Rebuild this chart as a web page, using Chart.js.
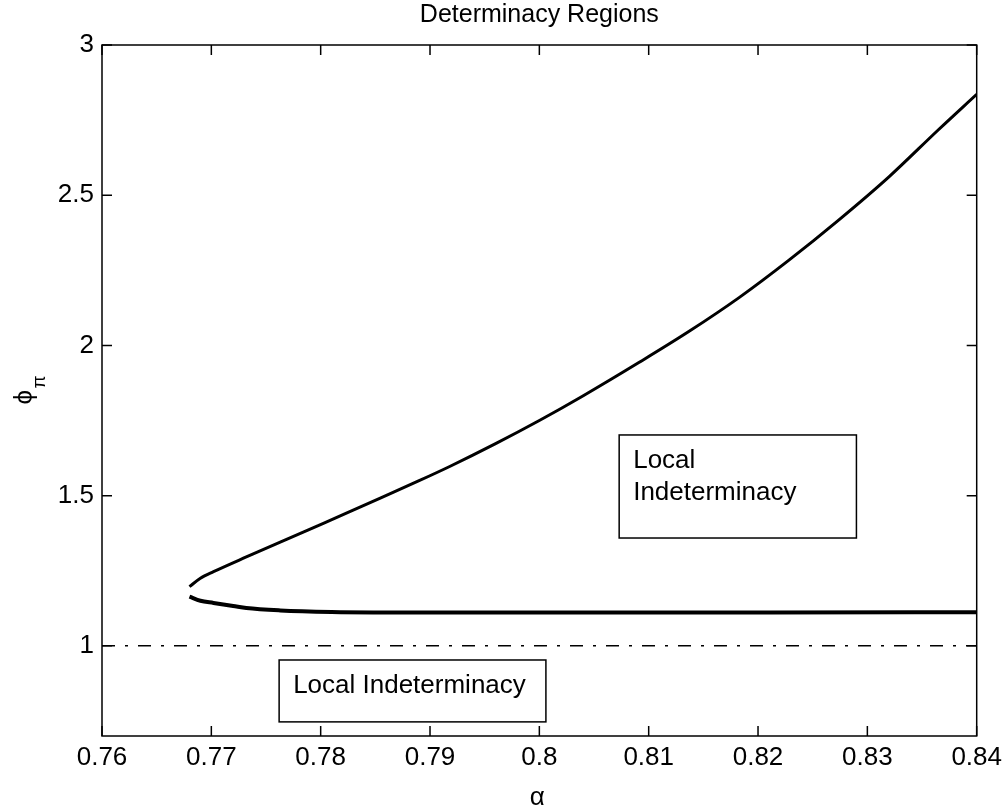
<!DOCTYPE html>
<html>
<head>
<meta charset="utf-8">
<script src="https://cdn.jsdelivr.net/npm/chart.js@4/dist/chart.umd.min.js"></script>
<style>
  body { margin: 0; background: #fff; }
</style>
</head>
<body>
<canvas id="chart" width="1008" height="809"></canvas>
<script>
const xTicks = [0.76, 0.77, 0.78, 0.79, 0.8, 0.81, 0.82, 0.83, 0.84];
const yTicks = [1, 1.5, 2, 2.5, 3];

// upper branch of the boundary
const upperAlpha = [0.7680, 0.7690, 0.7702, 0.7732, 0.7763, 0.7793, 0.7823, 0.7854, 0.7889, 0.7918, 0.7960,
                    0.8000, 0.8039, 0.8091, 0.8137, 0.8183, 0.8228, 0.8274, 0.8320, 0.8365, 0.8400];
const upperPhi   = [1.197, 1.225, 1.247, 1.296, 1.345, 1.393, 1.441, 1.491, 1.548, 1.597, 1.673,
                    1.750, 1.830, 1.943, 2.047, 2.160, 2.283, 2.418, 2.562, 2.718, 2.836];

// lower branch
const lowerAlpha = [0.7680, 0.7690, 0.7702, 0.7720, 0.7732, 0.7763, 0.7810, 0.7900, 0.8000, 0.8200, 0.8400];
const lowerPhi   = [1.164, 1.150, 1.143, 1.133, 1.126, 1.118, 1.113, 1.111, 1.111, 1.111, 1.112];

// phi_pi = 1 reference line
const refAlpha = [0.76, 0.84];
const refPhi = [1, 1];

// text boxes (data coords)
const notes = [
  { x0: 0.7762, x1: 0.8006, y0: 0.953, y1: 0.747, lines: ['Local Indeterminacy'] },
  { x0: 0.8073, x1: 0.8290, y0: 1.702, y1: 1.359, lines: ['Local', 'Indeterminacy'] }
];

const FONT = '"Liberation Sans", Arial, sans-serif';
const pts = (xs, ys) => xs.map((v, i) => ({ x: v, y: ys[i] }));

const framePlugin = {
  id: 'frame',
  afterDatasetsDraw(chart) {
    const { ctx, chartArea: a, scales: { x, y } } = chart;
    ctx.save();
    ctx.strokeStyle = '#000';
    ctx.lineWidth = 1.5;
    ctx.strokeRect(a.left, a.top, a.right - a.left, a.bottom - a.top);

    // inward ticks on all four sides
    ctx.beginPath();
    xTicks.forEach(v => {
      const px = x.getPixelForValue(v);
      ctx.moveTo(px, a.bottom); ctx.lineTo(px, a.bottom - 10);
      ctx.moveTo(px, a.top); ctx.lineTo(px, a.top + 10);
    });
    yTicks.forEach(v => {
      const py = y.getPixelForValue(v);
      ctx.moveTo(a.left, py); ctx.lineTo(a.left + 10, py);
      ctx.moveTo(a.right, py); ctx.lineTo(a.right - 10, py);
    });
    ctx.stroke();

    // annotation boxes
    ctx.font = '26px ' + FONT;
    ctx.textAlign = 'left';
    ctx.textBaseline = 'alphabetic';
    notes.forEach(n => {
      const l = x.getPixelForValue(n.x0), r = x.getPixelForValue(n.x1);
      const t = y.getPixelForValue(n.y0), b = y.getPixelForValue(n.y1);
      ctx.fillStyle = '#fff';
      ctx.fillRect(l, t, r - l, b - t);
      ctx.strokeRect(l, t, r - l, b - t);
      ctx.fillStyle = '#000';
      n.lines.forEach((s, i) => ctx.fillText(s, l + 14, t + 33 + i * 32));
    });

    // x label
    ctx.textAlign = 'center';
    ctx.fillText('α', (a.left + a.right) / 2 - 2, 805);

    // y label phi_pi, rotated
    ctx.translate(32, (a.top + a.bottom) / 2);
    ctx.rotate(-Math.PI / 2);
    ctx.textAlign = 'left';
    ctx.fillText('ϕ', -14, 0);
    ctx.font = '19px ' + FONT;
    ctx.fillText('π', 2, 13);
    ctx.restore();
  }
};

const fmt = v => String(Number(v.toFixed(2)));

new Chart(document.getElementById('chart'), {
  type: 'scatter',
  data: {
    datasets: [
      { data: pts(upperAlpha, upperPhi), showLine: true, borderColor: '#000', borderWidth: 3,
        pointRadius: 0, cubicInterpolationMode: 'monotone' },
      { data: pts(lowerAlpha, lowerPhi), showLine: true, borderColor: '#000', borderWidth: 4,
        pointRadius: 0, cubicInterpolationMode: 'monotone' },
      { data: pts(refAlpha, refPhi), showLine: true, borderColor: '#000', borderWidth: 1.5,
        borderDash: [13, 10, 3, 10], pointRadius: 0 }
    ]
  },
  options: {
    responsive: false,
    animation: false,
    layout: { padding: { top: 0, right: 30, bottom: 0, left: 0 } },
    plugins: {
      legend: { display: false },
      tooltip: { enabled: false },
      title: {
        display: true,
        text: 'Determinacy Regions',
        fullSize: false,
        color: '#000',
        font: { family: FONT, size: 25, weight: 'normal' },
        padding: { top: 0, bottom: 15 }
      }
    },
    scales: {
      x: {
        type: 'linear',
        min: 0.76, max: 0.84,
        grid: { display: false, drawTicks: false },
        border: { display: false },
        afterBuildTicks: s => { s.ticks = xTicks.map(v => ({ value: v })); },
        afterFit: s => { s.height = 73; },
        ticks: { color: '#000', padding: 6, maxRotation: 0, font: { family: FONT, size: 26 }, callback: fmt }
      },
      y: {
        type: 'linear',
        min: 0.7, max: 3,
        grid: { display: false, drawTicks: false },
        border: { display: false },
        afterBuildTicks: s => { s.ticks = yTicks.map(v => ({ value: v })); },
        afterFit: s => { s.width = 102; },
        ticks: { color: '#000', padding: 8, font: { family: FONT, size: 26 }, callback: fmt }
      }
    }
  },
  plugins: [framePlugin]
});
</script>
</body>
</html>
